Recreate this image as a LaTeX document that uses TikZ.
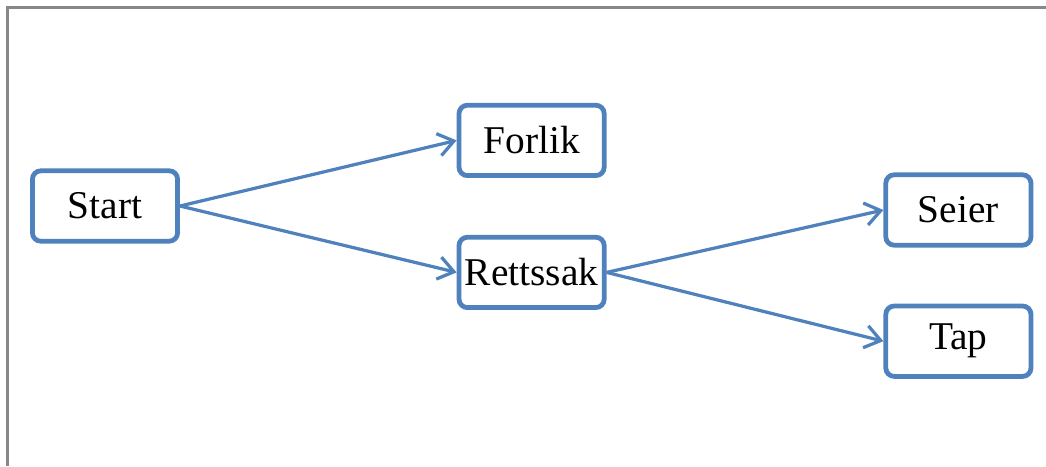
\documentclass[tikz,border=0pt]{standalone}
\usepackage{fontspec}
\setmainfont{Liberation Serif}
\usepackage{tikz}
\usetikzlibrary{arrows.meta}

\definecolor{boxblue}{HTML}{4F81BD}
\definecolor{framegray}{HTML}{888888}

\tikzset{
  stepbox/.style={draw=boxblue, line width=3.4pt, rounded corners=6pt, fill=white,
    minimum width=3.63cm, minimum height=1.76cm, inner sep=0pt,
    font=\fontsize{28}{31}\selectfont},
  link/.style={draw=boxblue, line width=2.3pt,
    -{Straight Barb[length=11pt, width=16pt, line width=2.3pt]}}
}

\begin{document}
\begin{tikzpicture}
  \useasboundingbox (0,0) rectangle (26.15,-11.65);

  % Draw outer frame
  \draw[framegray, line width=1.9pt] (0.19,-11.65) -- (0.19,-0.19) -- (26.15,-0.19);

  % Draw the boxes
  \node[stepbox] (start) at (2.625,-5.15) {Start};
  \node[stepbox] (forlik) at (13.29,-3.51) {Forlik};
  \node[stepbox] (rettssak) at (13.29,-6.81) {Rettssak};
  \node[stepbox] (seier) at (23.96,-5.25) {Seier};
  \node[stepbox] (tap) at (23.96,-8.53) {Tap};

  % Connect the boxes
  \draw[link] (start.east) -- (forlik.west);
  \draw[link] (start.east) -- (rettssak.west);
  \draw[link] (rettssak.east) -- (seier.west);
  \draw[link] (rettssak.east) -- (tap.west);

\end{tikzpicture}
\end{document}
